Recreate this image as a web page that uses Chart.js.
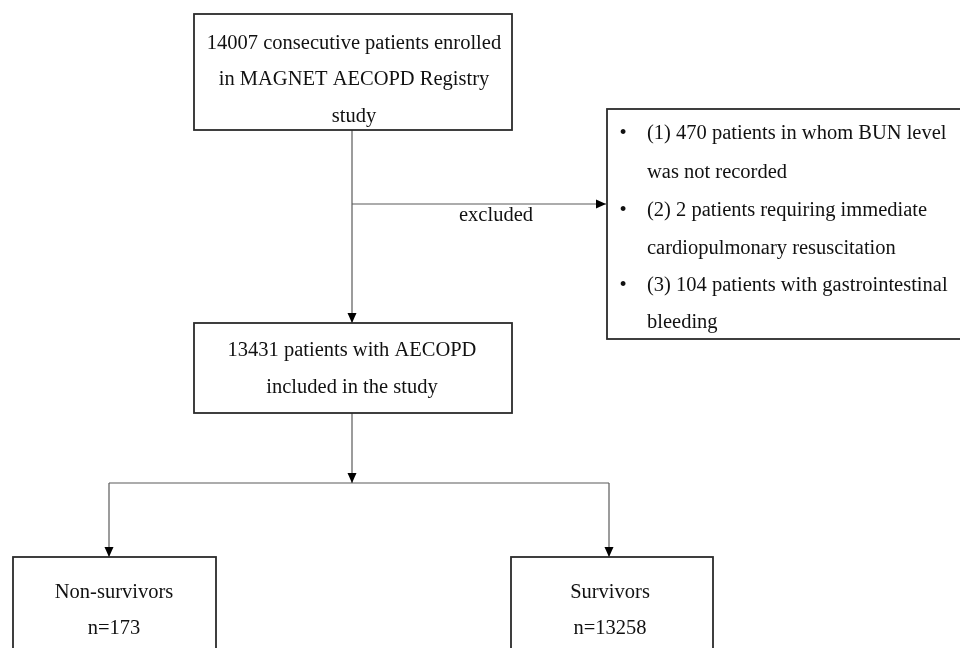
<!DOCTYPE html>
<html>
<head>
<meta charset="utf-8">
<script src="https://cdn.jsdelivr.net/npm/chart.js@4/dist/chart.umd.min.js"></script>
<style>
    html, body { margin: 0; padding: 0; background: #fff; }
    #wrap { width: 960px; height: 648px; }
</style>
</head>
<body>
<div id="wrap"><canvas id="flow"></canvas></div>
<script>
// flow counts
const stageCounts = [14007, 13431, 173, 13258];
const exclusionCounts = [470, 2, 104];
const exclusionLabel = 'excluded';

// text for every box, built from the counts
const topLines = [`${stageCounts[0]} consecutive patients enrolled`, 'in MAGNET AECOPD Registry', 'study'];
const midLines = [`${stageCounts[1]} patients with AECOPD`, 'included in the study'];
const exclLines = [
    `(1) ${exclusionCounts[0]} patients in whom BUN level`, 'was not recorded',
    `(2) ${exclusionCounts[1]} patients requiring immediate`, 'cardiopulmonary resuscitation',
    `(3) ${exclusionCounts[2]} patients with gastrointestinal`, 'bleeding'
];
const leftLines = ['Non-survivors', `n=${stageCounts[2]}`];
const rightLines = ['Survivors', `n=${stageCounts[3]}`];

// layout, in axis units (0..960 across, 0..648 down)
const layout = {
    boxes: [
        { x0: 194, x1: 512, y0: 14, y1: 130, cx: 354, ys: [44, 80, 117], lines: topLines },
        { x0: 194, x1: 512, y0: 323, y1: 413, cx: 352, ys: [351, 388], lines: midLines },
        { x0: 607, x1: 963, y0: 109, y1: 339, tx: 647, bx: 623, ys: [134, 173, 211, 249, 286, 323], lines: exclLines, bullets: [0, 2, 4] },
        { x0: 13, x1: 216, y0: 557, y1: 665, cx: 114, ys: [593, 629], lines: leftLines },
        { x0: 511, x1: 713, y0: 557, y1: 665, cx: 610, ys: [593, 629], lines: rightLines }
    ],
    arrows: [
        [352, 130, 352, 323],
        [352, 204, 606, 204],
        [352, 413, 352, 483],
        [109, 483, 109, 557],
        [609, 483, 609, 557]
    ],
    lines: [[109, 483, 609, 483]],
    label: { x: 496, y: 216 }
};

const flowPlugin = {
    id: 'flow',
    afterDraw(chart) {
        const ctx = chart.ctx;
        const xs = chart.scales.x, ys = chart.scales.y;
        const px = v => xs.getPixelForValue(v);
        const py = v => ys.getPixelForValue(v);
        ctx.save();

        // connectors
        ctx.strokeStyle = '#5a5a5a';
        ctx.lineWidth = 1.2;
        layout.lines.concat(layout.arrows).forEach(([a, b, c, d]) => {
            ctx.beginPath();
            ctx.moveTo(px(a), py(b));
            ctx.lineTo(px(c), py(d));
            ctx.stroke();
        });
        ctx.fillStyle = '#000';
        layout.arrows.forEach(([a, b, c, d]) => {
            const x = px(c), y = py(d);
            const ang = Math.atan2(py(d) - py(b), px(c) - px(a));
            ctx.save();
            ctx.translate(x, y);
            ctx.rotate(ang);
            ctx.beginPath();
            ctx.moveTo(0, 0);
            ctx.lineTo(-10, -4.5);
            ctx.lineTo(-10, 4.5);
            ctx.closePath();
            ctx.fill();
            ctx.restore();
        });

        // boxes
        ctx.strokeStyle = '#2b2b2b';
        ctx.lineWidth = 1.8;
        ctx.font = '20.5px "Liberation Serif", "Times New Roman", serif';
        ctx.textBaseline = 'middle';
        layout.boxes.forEach(b => {
            ctx.fillStyle = '#fff';
            ctx.fillRect(px(b.x0), py(b.y0), px(b.x1) - px(b.x0), py(b.y1) - py(b.y0));
            ctx.strokeRect(px(b.x0), py(b.y0), px(b.x1) - px(b.x0), py(b.y1) - py(b.y0));
            ctx.fillStyle = '#111';
            b.lines.forEach((t, i) => {
                if (b.tx !== undefined) {
                    ctx.textAlign = 'left';
                    ctx.fillText(t, px(b.tx), py(b.ys[i]));
                    if (b.bullets.includes(i)) {
                        ctx.textAlign = 'center';
                        ctx.fillText('\u2022', px(b.bx), py(b.ys[i]));
                    }
                } else {
                    ctx.textAlign = 'center';
                    ctx.fillText(t, px(b.cx), py(b.ys[i]));
                }
            });
        });

        ctx.textAlign = 'center';
        ctx.fillText(exclusionLabel, px(layout.label.x), py(layout.label.y));
        ctx.restore();
    }
};

const chart = new Chart(document.getElementById('flow').getContext('2d'), {
    type: 'scatter',
    data: { datasets: [] },
    options: {
        responsive: true,
        maintainAspectRatio: false,
        animation: false,
        layout: { padding: 0 },
        plugins: { legend: { display: false }, tooltip: { enabled: false } },
        scales: {
            x: { type: 'linear', min: 0, max: 960, display: false },
            y: { type: 'linear', min: 0, max: 648, reverse: true, display: false }
        }
    },
    plugins: [flowPlugin]
});
</script>
</body>
</html>
